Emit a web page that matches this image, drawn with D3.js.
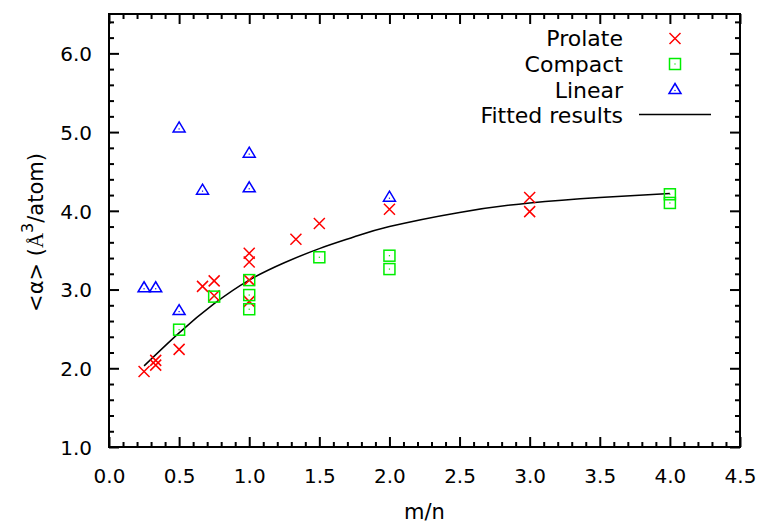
<!DOCTYPE html>
<html>
<head>
<meta charset="utf-8">
<script src="https://cdn.jsdelivr.net/npm/d3@7"></script>
<style>
  html, body { margin: 0; padding: 0; background: #fff; }
  svg { display: block; }
  text { font-family: "DejaVu Sans", sans-serif; fill: #000; }
</style>
</head>
<body>
<svg id="chart" width="763" height="527"></svg>
<script>
// Mean polarizability per atom against the m/n ratio, by cluster shape
const prolateX = [0.25, 0.333, 0.333, 0.5, 0.667, 0.75, 0.75, 1.0, 1.0, 1.0, 1.0, 1.333, 1.5, 2.0, 3.0, 3.0];
const prolateY = [1.96, 2.10, 2.04, 2.24, 3.04, 3.11, 2.92, 3.46, 3.35, 3.12, 2.85, 3.64, 3.84, 4.02, 4.17, 3.99];

const compactX = [0.5, 0.75, 1.0, 1.0, 1.0, 1.5, 2.0, 2.0, 4.0, 4.0];
const compactY = [2.49, 2.91, 3.12, 2.93, 2.75, 3.41, 3.43, 3.26, 4.21, 4.10];

const linearX = [0.25, 0.333, 0.5, 0.5, 0.667, 1.0, 1.0, 2.0];
const linearY = [3.01, 3.01, 2.72, 5.04, 4.25, 4.72, 4.28, 4.16];

// Fitted curve, sampled along m/n
const fitX = [0.25, 0.5, 0.75, 1.0, 1.25, 1.5, 1.75, 2.0, 2.5, 3.0, 3.5, 4.0];
const fitY = [2.03, 2.45, 2.82, 3.12, 3.34, 3.52, 3.67, 3.80, 3.98, 4.10, 4.17, 4.22];

const xTickValues = [0, 0.5, 1.0, 1.5, 2.0, 2.5, 3.0, 3.5, 4.0, 4.5];
const yTickValues = [1, 2, 3, 4, 5, 6];
const legendLabels = ["Prolate", "Compact", "Linear", "Fitted results"];

const svg = d3.select("#chart");
const plotL = 109, plotR = 740, plotT = 14, plotB = 447;

const x = d3.scaleLinear().domain([0, 4.5]).range([plotL, plotR]);
const y = d3.scaleLinear().domain([1, 6.5]).range([plotB, plotT]);

const xMinor = d3.range(0, 46).map(i => i / 10).filter(v => Math.abs(v * 2 - Math.round(v * 2)) > 1e-6);
const yMinor = d3.range(5, 33).map(i => i / 5).filter(v => Math.abs(v - Math.round(v)) > 1e-6);

const fmt = d3.format(".1f");

function styleAxis(g) {
  g.select(".domain").remove();
  g.selectAll(".tick line").attr("stroke", "#000").attr("stroke-width", 2);
}

// bottom axis: inward ticks with labels
svg.append("g").attr("transform", `translate(0,${plotB})`)
  .call(d3.axisBottom(x).tickValues(xTickValues).tickSizeInner(-10).tickSizeOuter(0).tickFormat(fmt))
  .call(styleAxis)
  .call(g => g.selectAll(".tick text")
    .attr("y", 35.5).attr("dy", null)
    .style("font-family", "DejaVu Sans").style("font-size", "20px"));
svg.append("g").attr("transform", `translate(0,${plotB})`)
  .call(d3.axisBottom(x).tickValues(xMinor).tickSizeInner(-5).tickSizeOuter(0).tickFormat(""))
  .call(styleAxis);

// top axis mirror
svg.append("g").attr("transform", `translate(0,${plotT})`)
  .call(d3.axisTop(x).tickValues(xTickValues).tickSizeInner(-10).tickSizeOuter(0).tickFormat(""))
  .call(styleAxis);
svg.append("g").attr("transform", `translate(0,${plotT})`)
  .call(d3.axisTop(x).tickValues(xMinor).tickSizeInner(-5).tickSizeOuter(0).tickFormat(""))
  .call(styleAxis);

// left axis: inward ticks with labels
svg.append("g").attr("transform", `translate(${plotL},0)`)
  .call(d3.axisLeft(y).tickValues(yTickValues).tickSizeInner(-10).tickSizeOuter(0).tickFormat(fmt))
  .call(styleAxis)
  .call(g => g.selectAll(".tick text")
    .attr("x", -17).attr("dy", "0.36em")
    .style("font-family", "DejaVu Sans").style("font-size", "20px"));
svg.append("g").attr("transform", `translate(${plotL},0)`)
  .call(d3.axisLeft(y).tickValues(yMinor).tickSizeInner(-5).tickSizeOuter(0).tickFormat(""))
  .call(styleAxis);

// right axis mirror
svg.append("g").attr("transform", `translate(${plotR},0)`)
  .call(d3.axisRight(y).tickValues(yTickValues).tickSizeInner(-10).tickSizeOuter(0).tickFormat(""))
  .call(styleAxis);
svg.append("g").attr("transform", `translate(${plotR},0)`)
  .call(d3.axisRight(y).tickValues(yMinor).tickSizeInner(-5).tickSizeOuter(0).tickFormat(""))
  .call(styleAxis);

// plot frame
svg.append("rect")
  .attr("x", plotL).attr("y", plotT)
  .attr("width", plotR - plotL).attr("height", plotB - plotT)
  .attr("fill", "none").attr("stroke", "#000").attr("stroke-width", 2);

// axis titles
svg.append("text")
  .attr("x", (plotL + plotR) / 2).attr("y", 519)
  .attr("text-anchor", "middle")
  .style("font-size", "21px")
  .text("m/n");

const yTitle = svg.append("text")
  .attr("transform", `translate(43,${(plotT + plotB) / 2 + 2}) rotate(-90)`)
  .attr("text-anchor", "middle")
  .style("font-size", "21px");
yTitle.append("tspan").text("<α> (");
yTitle.append("tspan").style("font-family", "Liberation Serif").text("Å");
yTitle.append("tspan").attr("dy", -10).style("font-size", "16px").text("3");
yTitle.append("tspan").attr("dy", 10).text("/atom)");

// marker drawing
const RED = "#ff0000", GREEN = "#00ee00", BLUE = "#0000ff";

function drawCross(g, cx, cy) {
  g.append("path")
    .attr("d", `M${cx - 5.5},${cy - 5.5}L${cx + 5.5},${cy + 5.5}M${cx - 5.5},${cy + 5.5}L${cx + 5.5},${cy - 5.5}`)
    .attr("stroke", RED).attr("stroke-width", 1.5).attr("fill", "none");
}
function drawSquare(g, cx, cy) {
  g.append("rect")
    .attr("x", cx - 5.5).attr("y", cy - 5.5).attr("width", 11).attr("height", 11)
    .attr("stroke", GREEN).attr("stroke-width", 1.5).attr("fill", "none");
  g.append("rect").attr("x", cx - 0.6).attr("y", cy - 0.6).attr("width", 1.2).attr("height", 1.2).attr("fill", GREEN);
}
function drawTriangle(g, cx, cy) {
  g.append("path")
    .attr("d", `M${cx},${cy - 7}L${cx + 6},${cy + 3}L${cx - 6},${cy + 3}Z`)
    .attr("stroke", BLUE).attr("stroke-width", 1.5).attr("fill", "none").attr("stroke-linejoin", "miter");
  g.append("rect").attr("x", cx - 0.6).attr("y", cy - 0.6).attr("width", 1.2).attr("height", 1.2).attr("fill", BLUE);
}

// fitted curve
const line = d3.line().x(d => x(d[0])).y(d => y(d[1])).curve(d3.curveNatural);
svg.append("path")
  .datum(d3.zip(fitX, fitY))
  .attr("d", line)
  .attr("fill", "none").attr("stroke", "#000").attr("stroke-width", 1.5);

const marks = svg.append("g");
d3.zip(prolateX, prolateY).forEach(([a, b]) => drawCross(marks, x(a), y(b)));
d3.zip(compactX, compactY).forEach(([a, b]) => drawSquare(marks, x(a), y(b)));
d3.zip(linearX, linearY).forEach(([a, b]) => drawTriangle(marks, x(a), y(b)));

// legend
const legend = svg.append("g");
const legendBase = [46, 72, 97.5, 123];
legendLabels.forEach((lab, i) => {
  legend.append("text")
    .attr("x", 623).attr("y", legendBase[i])
    .attr("text-anchor", "end")
    .style("font-size", "22px")
    .text(lab);
});
drawCross(legend, 675, legendBase[0] - 7.5);
drawSquare(legend, 675, legendBase[1] - 8);
drawTriangle(legend, 675, legendBase[2] - 7);
legend.append("line")
  .attr("x1", 639).attr("x2", 711)
  .attr("y1", legendBase[3] - 8.5).attr("y2", legendBase[3] - 8.5)
  .attr("stroke", "#000").attr("stroke-width", 1.5);
</script>
</body>
</html>
